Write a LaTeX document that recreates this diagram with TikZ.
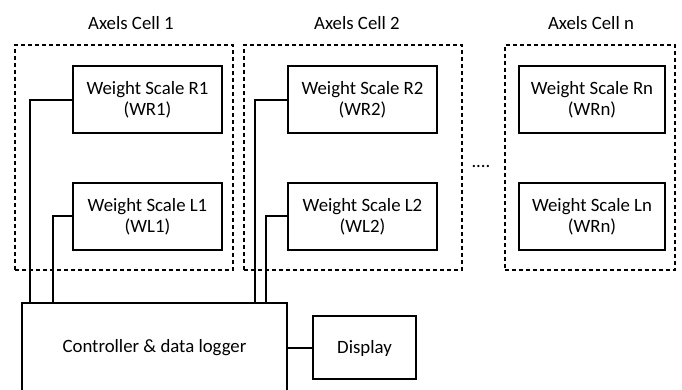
\documentclass[tikz,border=0pt]{standalone}
\usepackage{fontspec}
\setmainfont{Carlito}
\tikzset{
  scalebox/.style={draw, line width=1pt, minimum width=74.5pt, minimum height=33.5pt, align=center, inner sep=0pt},
  cellbox/.style={draw, line width=0.9pt, dash pattern=on 2pt off 1.5pt, minimum height=112.5pt, inner sep=0pt},
  wire/.style={line width=1pt}
}
\begin{document}
\begin{tikzpicture}[x=0.5pt, y=-0.5pt, font=\fontsize{9.4}{10.5}\selectfont]
      \useasboundingbox (0,0) rectangle (682,390);
      \clip (0,0) rectangle (682,390);
      % axel cells
      \node[cellbox, minimum width=109pt] (cell1) at (124,157.5) {};
      \node[cellbox, minimum width=109pt] (cell2) at (353,157.5) {};
      \node[cellbox, minimum width=85pt] (celln) at (590,157.5) {};
      \node (t1) at (131,23) {Axels Cell 1};
      \node (t2) at (357,23) {Axels Cell 2};
      \node (tn) at (591,23) {Axels Cell n};
      \node (dots) at (481,167) {....};
      % weight scales
      \node[scalebox] (wr1) at (147.5,100) {Weight Scale R1\\(WR1)};
      \node[scalebox] (wl1) at (147.5,216.5) {Weight Scale L1\\(WL1)};
      \node[scalebox] (wr2) at (362.5,100) {Weight Scale R2\\(WR2)};
      \node[scalebox] (wl2) at (362.5,216.5) {Weight Scale L2\\(WL2)};
      \node[scalebox, minimum width=73pt] (wrn) at (592,100) {Weight Scale Rn\\(WRn)};
      \node[scalebox, minimum width=73pt] (wln) at (592,216.5) {Weight Scale Ln\\(WRn)};
      % controller and display
      \node[draw, line width=1pt, minimum width=132.5pt, minimum height=45pt, inner sep=0pt] (ctrl) at (154.5,348) {Controller \& data logger};
      \node[draw, line width=1pt, minimum width=51.5pt, minimum height=31.5pt, inner sep=0pt] (disp) at (364.5,348) {Display};
      \coordinate (in1) at (30,303);
      \coordinate (in2) at (53,303);
      \coordinate (in3) at (255,303);
      \coordinate (in4) at (266,303);
      \begin{scope}[wire]
        \draw (wr1.west) -| (in1);
        \draw (wl1.west) -| (in2);
        \draw (wr2.west) -| (in3);
        \draw (wl2.west) -| (in4);
        \draw (ctrl.east) -- (disp.west);
      \end{scope}
    \end{tikzpicture}
\end{document}
